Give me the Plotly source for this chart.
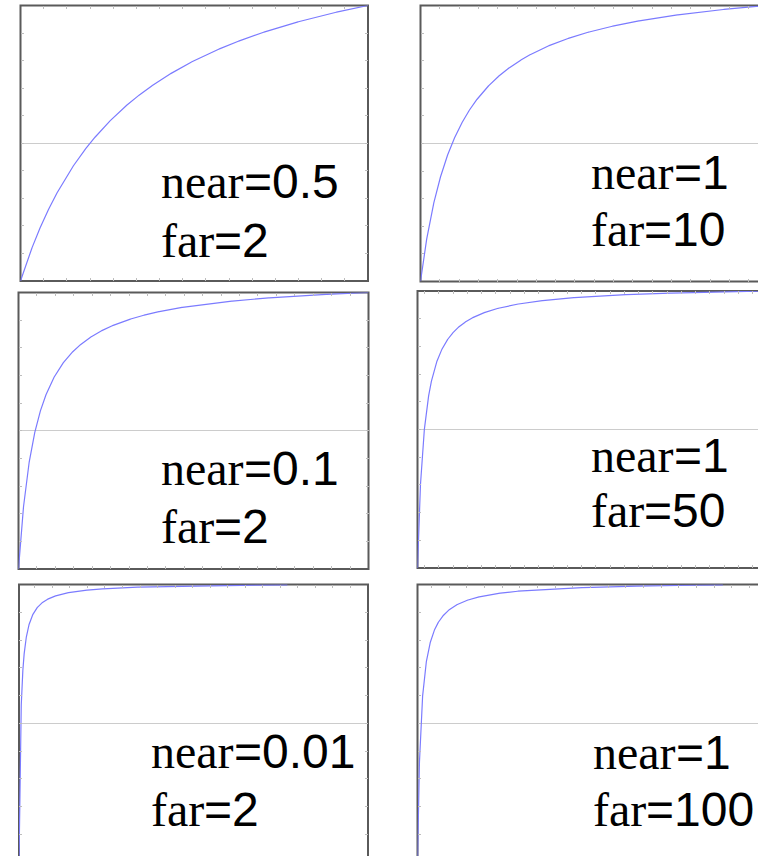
import numpy as np
import plotly.graph_objects as go

# Clip-plane pairs shown in each panel (row-major: left column, right column)
near_vals = [0.5, 1, 0.1, 1, 0.01, 1]
far_vals = [2, 10, 2, 50, 2, 100]
near_labels = ["0.5", "1", "0.1", "1", "0.01", "1"]
far_labels = ["2", "10", "2", "50", "2", "100"]
# Last sampled eye-space depth of each curve
z_end_vals = [2, 10, 2, 50, 1.54, 87.5]
x_dticks = [0.1, 0.5, 0.1, 2, 0.1, 5]

W, H = 758, 856
# Panel boxes in pixels: left, right, top, bottom (right column and bottom row run past the page)
boxes = [
    (20.5, 368.0, 5.5, 281.0),
    (420.5, 768.0, 5.5, 281.5),
    (18.5, 368.5, 292.5, 569.0),
    (417.5, 767.0, 291.0, 568.0),
    (19.0, 368.0, 584.5, 862.0),
    (417.5, 767.0, 584.5, 862.0),
]
# Label anchor (left x, baseline of first line, baseline of second line)
label_pos = [
    (161, 197, 256),
    (591, 188, 245),
    (161, 484, 542),
    (591, 471, 526),
    (151, 767, 825),
    (593, 768, 825),
]
FS = 48
SERIF = "Liberation Serif"
SANS = "Liberation Sans"
# Advance widths (em) of the serif words in Liberation Serif
WORD_EM = {"near": 0.500 + 0.444 + 0.444 + 0.333, "far": 0.333 + 0.444 + 0.333}


def ndc_depth(z, n, f):
    """Perspective-projected depth in normalised device coordinates."""
    return (f + n) / (f - n) - 2.0 * f * n / ((f - n) * z)


fig = go.Figure()
shapes = []
annotations = []

for i, (n, f) in enumerate(zip(near_vals, far_vals)):
    L, R, T, B = boxes[i]
    Rv, Bv = min(R, W), min(B, H)
    xa = "x" if i == 0 else f"x{i + 1}"
    ya = "y" if i == 0 else f"y{i + 1}"
    xkey = "xaxis" if i == 0 else f"xaxis{i + 1}"
    ykey = "yaxis" if i == 0 else f"yaxis{i + 1}"

    x_hi = n + (f - n) * (Rv - L) / (R - L)
    y_lo = -1 + 2 * (B - Bv) / (B - T)

    z = np.geomspace(n, z_end_vals[i], 1500)
    fig.add_trace(go.Scatter(
        x=z, y=ndc_depth(z, n, f), mode="lines",
        line=dict(color="#7b7bff", width=1.2),
        xaxis=xa, yaxis=ya, showlegend=False, hoverinfo="skip",
    ))

    cut_right = R > W
    cut_bottom = B > H
    fig.layout[xkey] = dict(
        domain=[L / W, Rv / W], range=[n, x_hi], anchor=ya,
        showgrid=False, zeroline=False, showline=False,
        showticklabels=False, ticks="inside", ticklen=3, tickwidth=1,
        tickcolor="#bdbdbd", dtick=x_dticks[i], tick0=0,
        side="top" if cut_bottom else "bottom",
        mirror=False if cut_bottom else "ticks",
        fixedrange=True,
    )
    fig.layout[ykey] = dict(
        domain=[1 - Bv / H, 1 - T / H], range=[y_lo, 1], anchor=xa,
        showgrid=False, zeroline=True, zerolinecolor="#cccccc",
        zerolinewidth=1, showline=False, showticklabels=False,
        ticks="inside", ticklen=3, tickwidth=1, tickcolor="#bdbdbd",
        dtick=0.2, tick0=0, mirror=False if cut_right else "ticks",
        fixedrange=True,
    )

    # Panel frame
    shapes.append(dict(
        type="rect", xref="paper", yref="paper",
        x0=L / W, x1=R / W, y0=1 - B / H, y1=1 - T / H,
        line=dict(color="#5a5a5a", width=2), layer="below",
    ))

    # Labels: serif word followed by a sans "=value"
    lx, b1, b2 = label_pos[i]
    for word, value, base in (("near", near_labels[i], b1), ("far", far_labels[i], b2)):
        yc = 1 - (base - 0.33 * FS) / H
        annotations.append(dict(
            xref="paper", yref="paper", x=lx / W, y=yc,
            xanchor="left", yanchor="middle", showarrow=False, text=word,
            font=dict(family=SERIF, size=FS, color="#000000"),
            borderpad=0, borderwidth=0,
        ))
        annotations.append(dict(
            xref="paper", yref="paper", x=(lx + WORD_EM[word] * FS) / W, y=yc,
            xanchor="left", yanchor="middle", showarrow=False, text="=" + value,
            font=dict(family=SANS, size=FS, color="#000000"),
            borderpad=0, borderwidth=0,
        ))

fig.update_layout(
    width=W, height=H, margin=dict(l=0, r=0, t=0, b=0),
    paper_bgcolor="white", plot_bgcolor="white",
    font=dict(family=SANS),
    shapes=shapes, annotations=annotations, showlegend=False,
)

fig.write_html("out.html", config={"displayModeBar": False})
